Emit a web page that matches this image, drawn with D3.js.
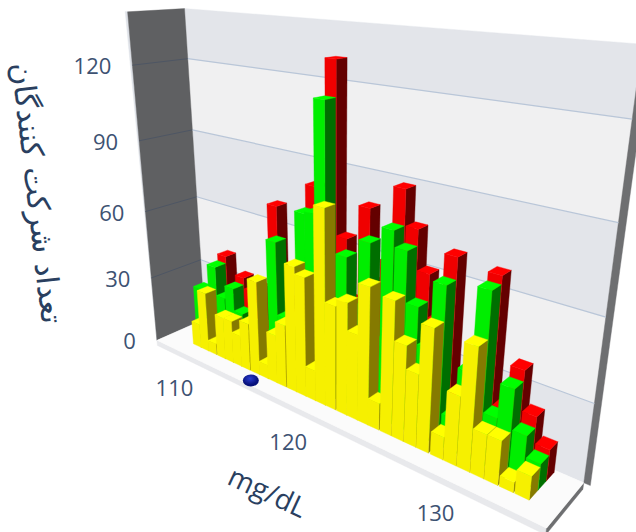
<!DOCTYPE html>
<html><head><meta charset="utf-8">
<script src="https://cdnjs.cloudflare.com/ajax/libs/d3/7.8.5/d3.min.js"></script>
<style>html,body{margin:0;padding:0;background:#fff;overflow:hidden}svg{display:block}</style>
</head><body><svg id="c" width="636" height="532"></svg>
<script>
const categories=[106,106.8,107.6,108.4,109.3,110.1,110.9,111.7,112.6,113.4,114.2,115,115.9,116.7,117.5,118.3,119.1,120,120.8,121.6,122.4,123.3,124.15,125,125.85,126.8,127.65,128.5,129.35,130.2,131.1,132];
const yellowValues=[null,11,27,5,19,19,14,21,41,6,21,27,53,50,13,79,43,46,35,55,11,53,38,29,48,9,27,47,17,17,4,9];
const greenValues=[24,14,37,24,30,20,12,14,14,57,26,20,72,73,115,30,60,40,68,30,75,69,50,36,61,13,33,64,20,33,18,10];
const redValues=[21,15,40,15,33,28,31,15,69,30,25,35,81,45,128,64,40,78,50,60,88,75,60,44,69,20,25,67,20,37,22,12];
const seriesNames=["red","green","yellow"];
const xTicks=[110,120,130];
const zTicks=[0,30,60,90,120];
const zBands=[[0,30],[30,60],[60,90],[90,120],[120,140]];
const markerPoint=[113.1,0.1,0];
const xTitle="mg/dL";
const zTitle="تعداد شرکت کنندگان";

const svg=d3.select("#c");
const x=d3.scaleLinear().domain([104,134]).range([0,1]);
const y=d3.scaleBand().domain(["yellow","green","red"]).range([0.3,0.96]).paddingInner(0.05);
const z=d3.scaleLinear().domain([0,140]).range([0,1]);

// camera fit: unit-cube anchors -> page pixels
const anchors=[[0,0,0,157,340],[1,0,0,545,530],[0,1,0,205,320],[1,1,0,585,482],[0,0,1,128,13],[0,1,1,183,9],[1,1,1,640,46],[0,0,.857,133,63],[1,1,.857,636,118],[1,1,.214,593,402]];
function fit(){
  const A=[],b=[];
  anchors.forEach(([X,Y,Z,u,v])=>{
    A.push([X,Y,Z,1,0,0,0,0,-u*X,-u*Y,-u*Z]);b.push(u);
    A.push([0,0,0,0,X,Y,Z,1,-v*X,-v*Y,-v*Z]);b.push(v);
  });
  const n=11,M=d3.range(n).map(i=>d3.range(n+1).map(j=>d3.sum(A,(r,k)=>r[i]*(j<n?r[j]:b[k]))));
  for(let c=0;c<n;c++){
    let p=c;for(let r=c+1;r<n;r++)if(Math.abs(M[r][c])>Math.abs(M[p][c]))p=r;
    [M[c],M[p]]=[M[p],M[c]];
    for(let r=0;r<n;r++)if(r!==c){const f=M[r][c]/M[c][c];for(let j=c;j<=n;j++)M[r][j]-=f*M[c][j];}
  }
  return M.map((r,i)=>r[n]/r[i]);
}
const P=fit();
function proj(X,Y,Z){const w=P[8]*X+P[9]*Y+P[10]*Z+1;return[(P[0]*X+P[1]*Y+P[2]*Z+P[3])/w,(P[4]*X+P[5]*Y+P[6]*Z+P[7])/w];}
const line=d3.line();
const poly=(pts,fill,stroke)=>svg.append("path").attr("d",line(pts.map(p=>proj(...p)))+"Z").attr("fill",fill).attr("stroke",stroke||fill).attr("stroke-width",stroke?1:0.4);

// back wall bands
zBands.forEach((b,i)=>poly([[0,1,z(b[0])],[1,1,z(b[0])],[1,1,z(b[1])],[0,1,z(b[1])]],i%2?"#f0f0f1":"#e3e5ea"));
// right wall edge
poly([[1,1,0],[1.012,1,0],[1.012,1,1],[1,1,1]],"#6e6f71");
// left wall, with its pale outer edge
poly([[0,0,0],[-.008,0,1],[0,0,1]],"#dfe2e8");
poly([[0,0,0],[0,1,0],[0,1,1],[0,0,1]],"#5f6062");
// grid
zTicks.filter(t=>t>0).forEach(t=>{
  svg.append("path").attr("d",line([[0,1],[1,1]].map(p=>proj(p[0],p[1],z(t))))).attr("stroke","#b9c6d8").attr("stroke-width",1.2).attr("fill","none");
  svg.append("path").attr("d",line([[0,0],[0,1]].map(p=>proj(p[0],p[1],z(t))))).attr("stroke","#4e5664").attr("stroke-width",1).attr("fill","none");
});
// floor
poly([[0,0,-.018],[1,0,-.018],[1,0,0],[0,0,0]],"#e8e9ec");
poly([[1,0,-.018],[1,1,-.018],[1,1,0],[1,0,0]],"#6e6f71");
poly([[0,0,0],[1,0,0],[1,1,0],[0,1,0]],"#fbfbfb");

// bars, far row first and left to right
const palette={yellow:["#f6f000","#ffff00","#857a00"],green:["#00ee00","#00ff00","#006f00"],red:["#f00000","#ff0000","#640000"]};
const valuesOf={yellow:yellowValues,green:greenValues,red:redValues};
const halfW=0.41,faces=[];
seriesNames.forEach(s=>categories.forEach((c,i)=>{
  const v=valuesOf[s][i];
  if(v==null)return;
  const x0=x(c-halfW),x1=x(c+halfW),y0=y(s),y1=y0+y.bandwidth(),t=z(v);
  faces.push({f:palette[s][2],p:[[x1,y0,0],[x1,y1,0],[x1,y1,t],[x1,y0,t]]});
  faces.push({f:palette[s][0],p:[[x0,y0,0],[x1,y0,0],[x1,y0,t],[x0,y0,t]]});
  faces.push({f:palette[s][1],p:[[x0,y0,t],[x1,y0,t],[x1,y1,t],[x0,y1,t]]});
}));
svg.append("g").selectAll("path").data(faces).join("path")
  .attr("d",d=>line(d.p.map(p=>proj(...p)))+"Z").attr("fill",d=>d.f).attr("stroke",d=>d.f).attr("stroke-width",0.4);

// marker
const grad=svg.append("defs").append("radialGradient").attr("id","mk").attr("cx","45%").attr("cy","35%");
grad.append("stop").attr("offset","0%").attr("stop-color","#2a3cd0");
grad.append("stop").attr("offset","100%").attr("stop-color","#06107a");
const m=proj(x(markerPoint[0]),markerPoint[1],markerPoint[2]);
svg.append("ellipse").attr("cx",m[0]).attr("cy",m[1]).attr("rx",8).attr("ry",6).attr("fill","url(#mk)");

// ticks
const tickFont="'Open Sans',sans-serif",ink="#3d5272";
svg.append("g").selectAll("text").data(xTicks).join("text").text(d=>d)
  .attr("x",d=>proj(x(d),0,0)[0]-39).attr("y",d=>proj(x(d),0,0)[1]+19).attr("text-anchor","middle").attr("dominant-baseline","central")
  .attr("font-family",tickFont).attr("font-size",22).attr("fill",ink);
svg.append("g").selectAll("text").data(zTicks).join("text").text(d=>d)
  .attr("x",d=>proj(0,0,z(d))[0]-21).attr("y",d=>proj(0,0,z(d))[1]).attr("text-anchor","end").attr("dominant-baseline","central")
  .attr("font-family",tickFont).attr("font-size",22).attr("fill",ink);
svg.append("text").text(xTitle).attr("transform","translate(268,491) rotate(25)").attr("text-anchor","middle").attr("dominant-baseline","central")
  .attr("font-family",tickFont).attr("font-size",28).attr("fill","#2a3f5f");
svg.append("text").text(zTitle).attr("transform","translate(37,193) rotate(83.3)").attr("text-anchor","middle").attr("dominant-baseline","central")
  .attr("font-family","'DejaVu Sans',sans-serif").attr("font-size",30.5).attr("fill","#2a3f5f").attr("direction","rtl");
</script></body></html>
